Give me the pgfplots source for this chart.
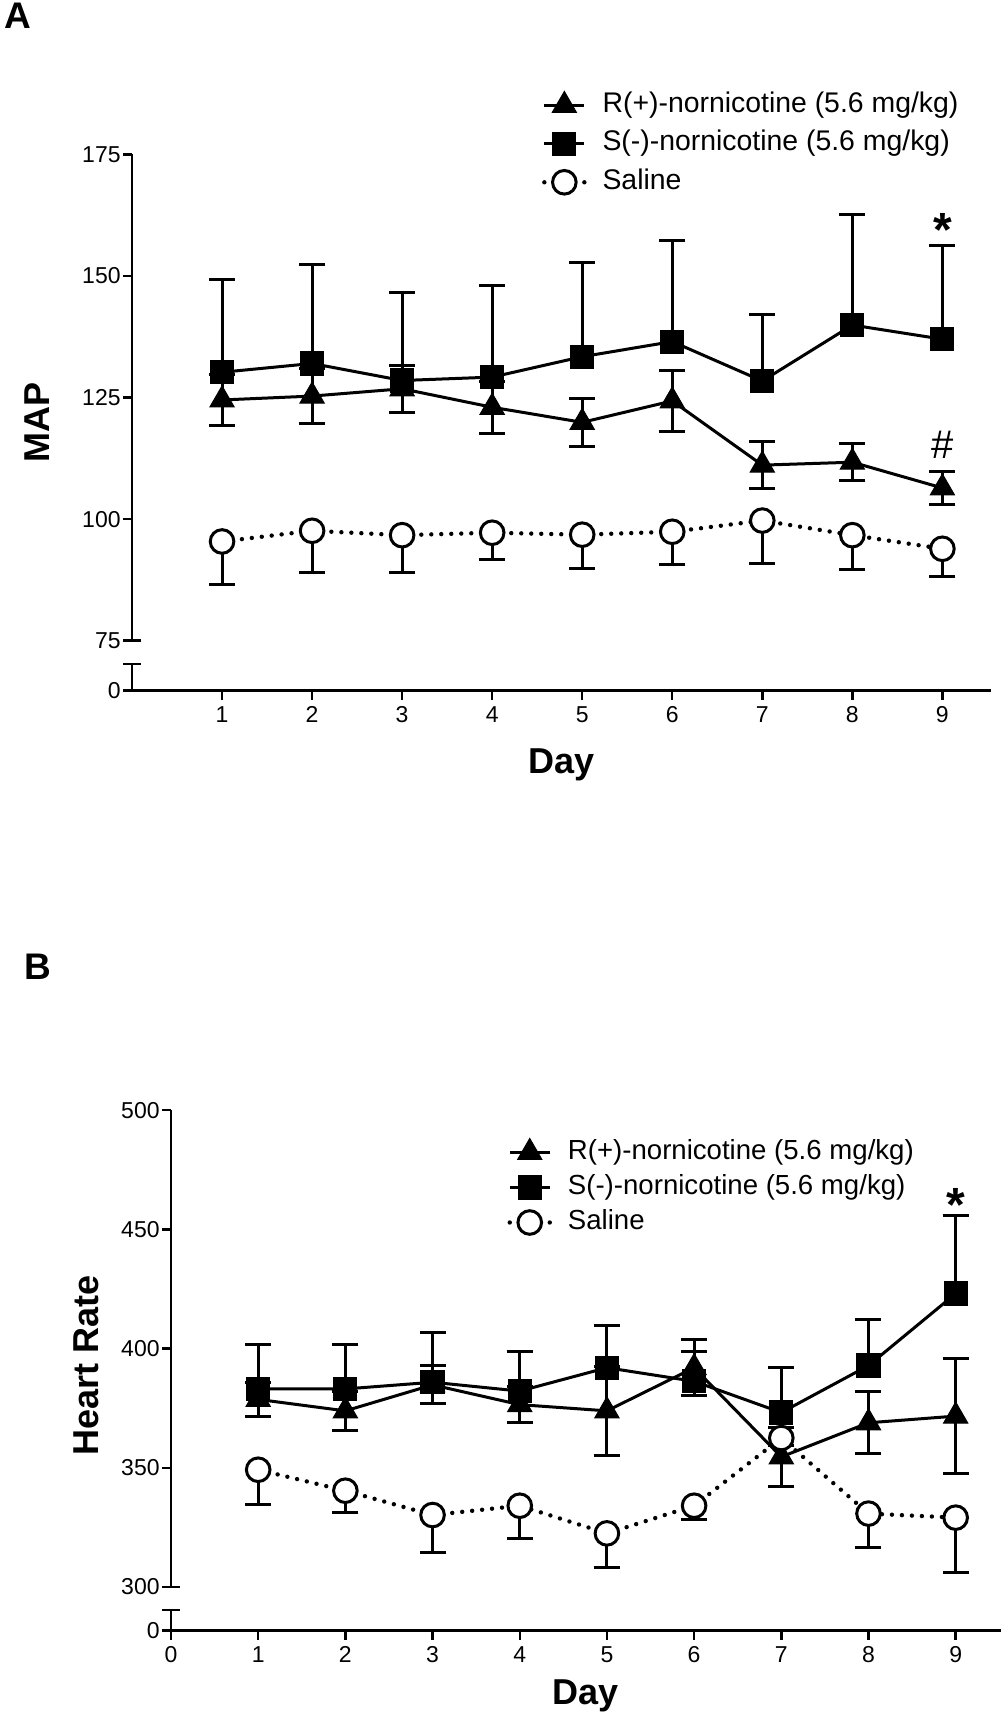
\documentclass[border=0pt]{standalone}
\usepackage{pgfplots}
\pgfplotsset{compat=1.18}
\usepackage{fontspec}
\setmainfont{Liberation Sans}

\pgfplotsset{
  panel/.style={
    scale only axis, separate axis lines, clip=false,
    axis x line*=bottom, axis y line*=left,
    x axis line style={line width=1.2pt, -},
    y axis line style={draw=none},
    tick style={line width=1.2pt, black},
    tick align=outside, major tick length=4.5pt,
    minor tick num=0,
    tick label style={font=\fontsize{11.5}{13}\selectfont},
    yticklabel style={inner xsep=1pt},
    /pgf/number format/assume math mode=true,
    label style={font=\fontsize{18}{21}\selectfont\bfseries},
    legend cell align=left,
    legend image code/.code={\draw[mark repeat=2,mark phase=2,##1] plot coordinates {(0pt,0pt) (10pt,0pt) (20pt,0pt)};},
  },
  rser/.style={black, line width=1.5pt, mark=triangle*, mark size=7pt,
    mark options={solid, fill=black, line width=0.5pt},
    error bars/.cd, y dir=both, y explicit,
    error bar style={line width=1.5pt, solid},
    error mark options={mark size=6.5pt, line width=1.5pt, rotate=90}},
  sser/.style={black, line width=1.5pt, mark=square*, mark size=5.8pt,
    mark options={solid, fill=black, line width=0.5pt},
    error bars/.cd, y dir=plus, y explicit,
    error bar style={line width=1.5pt, solid},
    error mark options={mark size=6.5pt, line width=1.5pt, rotate=90}},
  cser/.style={black, line width=2.2pt, dash pattern=on 0pt off 5pt, line cap=round,
    mark=*, mark size=5.9pt,
    mark options={solid, fill=white, draw=black, line width=1.5pt},
    error bars/.cd, y dir=minus, y explicit,
    error bar style={line width=1.5pt, solid, line cap=butt},
    error mark options={mark size=6.5pt, line width=1.5pt, rotate=90, line cap=butt}},
}

\begin{document}
\begin{tikzpicture}
\path[use as bounding box] (0,0) rectangle (502pt,858.5pt);

\node[anchor=north west, inner sep=0pt, font=\fontsize{18.5}{20}\selectfont\bfseries] at (2pt,857pt) {A};
\node[anchor=center, inner sep=0pt, font=\fontsize{18.5}{20}\selectfont\bfseries] at (19pt,375pt) {B};

% ---------------- Panel A ----------------
\begin{axis}[panel,
  width=429.5pt, height=268.15pt, at={(66pt,513.15pt)}, anchor=south west,
  xmin=0, xmax=9.54, ymin=64.72, ymax=175,
  xtick={1,2,3,4,5,6,7,8,9},
  ytick={64.72,75,100,125,150,175}, yticklabels={0,75,100,125,150,175},
  xlabel={Day}, ylabel={MAP},
  xlabel style={at={(axis description cs:0.5,-0.1385)}, anchor=center},
  ylabel style={at={(axis description cs:-0.111,0.5)}, anchor=center},
  legend style={draw=none, fill=none, at={(axis description cs:0.477,1.0205)}, anchor=west,
    font=\fontsize{14.2}{16}\selectfont, inner sep=0pt, row sep=6.2pt,
    nodes={inner sep=0pt, text height=10pt, text depth=3pt},
    /tikz/every odd column/.append style={column sep=8pt}},
]
\addplot+[rser] coordinates {
 (1,124.5) +- (0,5.2)
 (2,125.3) +- (0,5.7)
 (3,126.8) +- (0,4.8)
 (4,123.0) +- (0,5.3)
 (5,119.9) +- (0,4.9)
 (6,124.3) +- (0,6.3)
 (7,111.1) +- (0,4.85)
 (8,111.7) +- (0,3.85)
 (9,106.4) +- (0,3.45)
};
\addlegendentry{R(+)-nornicotine (5.6 mg/kg)}
\addplot+[sser] coordinates {
 (1,130.2) +- (0,19.0)
 (2,132.0) +- (0,20.3)
 (3,128.5) +- (0,18.1)
 (4,129.2) +- (0,18.8)
 (5,133.4) +- (0,19.3)
 (6,136.5) +- (0,20.8)
 (7,128.4) +- (0,13.7)
 (8,139.9) +- (0,22.8)
 (9,137.0) +- (0,19.2)
};
\addlegendentry{S(-)-nornicotine (5.6 mg/kg)}
\addplot+[cser] coordinates {
 (1,95.4) +- (0,8.9)
 (2,97.6) +- (0,8.6)
 (3,96.7) +- (0,7.6)
 (4,97.2) +- (0,5.5)
 (5,96.8) +- (0,6.9)
 (6,97.4) +- (0,6.7)
 (7,99.7) +- (0,8.8)
 (8,96.7) +- (0,7.0)
 (9,93.9) +- (0,5.8)
};
\addlegendentry{Saline}
% broken y axis
\draw[line width=1.2pt] (axis cs:0,175) -- (axis cs:0,75);
\draw[line width=1.2pt] (axis cs:0,70.15) -- (axis cs:0,64.72);
\draw[line width=1.2pt] ([xshift=-4.5pt]axis cs:0,75) -- ([xshift=4.5pt]axis cs:0,75);
\draw[line width=1.2pt] ([xshift=-4.5pt]axis cs:0,70.15) -- ([xshift=4.5pt]axis cs:0,70.15);
\node[anchor=base, inner sep=0pt, font=\fontsize{24}{24}\selectfont\bfseries] at (axis cs:9,156.0) {*};
\node[anchor=base, inner sep=0pt, font=\fontsize{20}{20}\selectfont] at (axis cs:9,112.4) {\#};
\end{axis}

% ---------------- Panel B ----------------
\begin{axis}[panel,
  width=415pt, height=260.2pt, at={(85.5pt,43.15pt)}, anchor=south west,
  xmin=0, xmax=9.52, ymin=281.67, ymax=500,
  xtick={0,1,2,3,4,5,6,7,8,9},
  ytick={281.67,300,350,400,450,500}, yticklabels={0,300,350,400,450,500},
  xlabel={Day}, ylabel={Heart Rate},
  xlabel style={at={(axis description cs:0.5,-0.1255)}, anchor=center},
  ylabel style={at={(axis description cs:-0.1016,0.51)}, anchor=center},
  legend style={draw=none, fill=none, at={(axis description cs:0.405,0.8526)}, anchor=west,
    font=\fontsize{13.8}{15}\selectfont, inner sep=0pt, row sep=4.5pt,
    nodes={inner sep=0pt, text height=10pt, text depth=3pt},
    /tikz/every odd column/.append style={column sep=8pt}},
]
\addplot+[rser] coordinates {
 (1,378.7) +- (0,7.0)
 (2,373.9) +- (0,8.3)
 (3,384.8) +- (0,8.0)
 (4,376.5) +- (0,7.6)
 (5,373.9) +- (0,18.6)
 (6,392.0) +- (0,11.8)
 (7,354.6) +- (0,12.4)
 (8,368.9) +- (0,13.0)
 (9,371.7) +- (0,24.0)
};
\addlegendentry{R(+)-nornicotine (5.6 mg/kg)}
\addplot+[sser] coordinates {
 (1,383.1) +- (0,18.8)
 (2,383.1) +- (0,18.8)
 (3,385.9) +- (0,21.0)
 (4,382.2) +- (0,16.6)
 (5,392.0) +- (0,17.9)
 (6,386.3) +- (0,12.5)
 (7,373.2) +- (0,18.8)
 (8,392.9) +- (0,19.2)
 (9,423.1) +- (0,32.7)
};
\addlegendentry{S(-)-nornicotine (5.6 mg/kg)}
\addplot+[cser] coordinates {
 (1,349.2) +- (0,14.7)
 (2,340.4) +- (0,9.1)
 (3,330.2) +- (0,15.8)
 (4,334.1) +- (0,13.8)
 (5,322.5) +- (0,14.2)
 (6,334.1) +- (0,5.7)
 (7,362.5) +- (0,3.0)
 (8,330.8) +- (0,14.4)
 (9,329.1) +- (0,23.0)
};
\addlegendentry{Saline}
\draw[line width=1.2pt] (axis cs:0,500) -- (axis cs:0,300);
\draw[line width=1.2pt] (axis cs:0,290.35) -- (axis cs:0,281.67);
\draw[line width=1.2pt] ([xshift=-4.5pt]axis cs:0,300) -- ([xshift=4.5pt]axis cs:0,300);
\draw[line width=1.2pt] ([xshift=-4.5pt]axis cs:0,290.35) -- ([xshift=4.5pt]axis cs:0,290.35);
\node[anchor=base, inner sep=0pt, font=\fontsize{24}{24}\selectfont\bfseries] at (axis cs:9,453.3) {*};
\end{axis}
\end{tikzpicture}
\end{document}
